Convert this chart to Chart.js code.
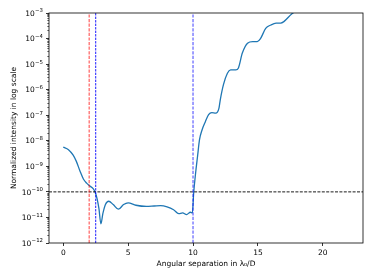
<!DOCTYPE html>
<html>
<head>
<meta charset="utf-8">
<script src="https://cdn.jsdelivr.net/npm/chart.js@4.4.1/dist/chart.umd.min.js"></script>
<style>
  html, body { margin: 0; padding: 0; background: #fff; }
  canvas { display: block; }
</style>
</head>
<body>
<canvas id="chart" width="374" height="280"></canvas>
<script>
// angular separation (lambda0/D) and normalized intensity
var separation = [0, 0.4, 0.75, 1.0, 1.3, 1.55, 1.8, 2.05, 2.3, 2.45, 2.6, 2.75, 2.9, 3.05, 3.25, 3.5,
    3.85, 4.25, 4.65, 5.0, 5.6, 6.4, 7.0, 7.5, 8.0, 8.5, 8.9, 9.2, 9.5, 9.8, 9.95,
    10.05, 10.2, 10.35, 10.5, 10.7, 10.95, 11.2, 11.45, 11.75, 12.0, 12.1, 12.35, 12.65, 12.9,
    13.3, 13.5, 13.8, 14.2, 14.6, 14.95, 15.2, 15.6, 16.0, 16.4, 16.75, 17.0, 17.6, 18.0];
var intensity = [5.6e-9, 4.5e-9, 2.8e-9, 1.6e-9, 6.3e-10, 3.2e-10, 2.2e-10, 1.7e-10, 1.35e-10, 1.0e-10, 5.6e-11, 2.2e-11, 5.6e-12, 1.4e-11, 3.2e-11, 4.3e-11,
    3.2e-11, 2.1e-11, 3.2e-11, 3.7e-11, 3.0e-11, 2.7e-11, 2.8e-11, 2.9e-11, 2.6e-11, 2.0e-11, 1.4e-11, 1.5e-11, 1.3e-11, 1.6e-11, 1.5e-11,
    9.1e-11, 5.5e-10, 2.5e-9, 1.1e-8, 2.7e-8, 5.6e-8, 1.05e-7, 1.26e-7, 1.2e-7, 1.9e-7, 4.0e-7, 1.6e-6, 4.4e-6, 5.9e-6,
    5.9e-6, 7.1e-6, 2.7e-5, 6.6e-5, 7.6e-5, 7.6e-5, 1.0e-4, 2.5e-4, 3.4e-4, 4.0e-4, 4.0e-4, 4.6e-4, 9.1e-4, 1.26e-3];

var xTicks = [0, 5, 10, 15, 20];
var yDecades = [-12, -11, -10, -9, -8, -7, -6, -5, -4, -3];
var xRange = [-1.1, 23.1];
var yRange = [1e-12, 1e-3];

var thresholdLevel = 1e-10;
var redMarker = 2;
var innerMarker = 2.5;
var outerMarker = 10;

var FONT_FAMILY = 'DejaVu Sans';
var font = { family: FONT_FAMILY, size: 7.5 };

function vline(x) {
    return [{ x: x, y: yRange[0] }, { x: x, y: yRange[1] }];
}

// full box around the axes, like matplotlib spines
var framePlugin = {
    id: 'frame',
    afterDatasetsDraw: function (chart) {
        var a = chart.chartArea, ctx = chart.ctx;
        ctx.save();
        ctx.strokeStyle = '#000';
        ctx.lineWidth = 0.8;
        ctx.strokeRect(a.left, a.top, a.right - a.left, a.bottom - a.top);
        ctx.restore();
    }
};

// "10" with a raised, smaller exponent, mathtext style
var decadeLabelPlugin = {
    id: 'decadeLabels',
    afterDraw: function (chart) {
        var y = chart.scales.y, ctx = chart.ctx;
        var right = chart.chartArea.left - 6;
        ctx.save();
        ctx.fillStyle = '#000';
        ctx.textAlign = 'right';
        ctx.textBaseline = 'alphabetic';
        yDecades.forEach(function (e) {
            var py = y.getPixelForValue(Math.pow(10, e));
            var exp = '\u2212' + String(-e);
            ctx.font = '5.4px "' + FONT_FAMILY + '"';
            var expWidth = ctx.measureText(exp).width;
            ctx.fillText(exp, right, py - 0.6);
            ctx.font = '7.5px "' + FONT_FAMILY + '"';
            ctx.fillText('10', right - expWidth - 0.3, py + 2.7);
        });
        ctx.restore();
    }
};

new Chart(document.getElementById('chart').getContext('2d'), {
    type: 'line',
    data: {
        datasets: [
            { data: vline(redMarker), borderColor: 'rgba(255,0,0,0.5)', borderWidth: 1.5, borderDash: [3.2, 1.4], pointRadius: 0, order: 0 },
            { data: vline(innerMarker), borderColor: '#0000ff', borderWidth: 0.9, borderDash: [2.4, 1.1], pointRadius: 0, order: 0 },
            { data: vline(outerMarker), borderColor: 'rgba(0,0,255,0.5)', borderWidth: 1.5, borderDash: [3.2, 1.4], pointRadius: 0, order: 0 },
            { data: [{ x: xRange[0], y: thresholdLevel }, { x: xRange[1], y: thresholdLevel }], borderColor: '#000', borderWidth: 0.9, borderDash: [3, 1.4], pointRadius: 0, order: 0 },
            {
                data: separation.map(function (s, i) { return { x: s, y: intensity[i] }; }),
                borderColor: '#1f77b4', borderWidth: 1.3, pointRadius: 0,
                cubicInterpolationMode: 'monotone', order: 1
            }
        ]
    },
    options: {
        responsive: false,
        animation: false,
        devicePixelRatio: 1,
        layout: { padding: { top: 13, right: 11, left: 0, bottom: 0 } },
        plugins: { legend: { display: false }, tooltip: { enabled: false } },
        scales: {
            x: {
                type: 'linear',
                min: xRange[0],
                max: xRange[1],
                afterBuildTicks: function (scale) {
                    scale.ticks = xTicks.map(function (v) { return { value: v }; });
                },
                afterFit: function (scale) { scale.height = 37; },
                border: { display: false },
                grid: { drawOnChartArea: false, tickLength: 3, tickColor: '#000', tickWidth: 0.8 },
                ticks: { color: '#000', font: font, padding: 2.5, maxRotation: 0, autoSkip: false },
                title: { display: true, text: 'Angular separation in \u03BB\u2080/D', color: '#000', font: font, padding: { top: 0, bottom: 11.5 } }
            },
            y: {
                type: 'logarithmic',
                min: yRange[0],
                max: yRange[1],
                afterBuildTicks: function (scale) {
                    var ticks = [];
                    yDecades.forEach(function (e, i) {
                        var steps = i < yDecades.length - 1 ? 9 : 1;
                        for (var m = 1; m <= steps; m++) {
                            ticks.push({ value: m * Math.pow(10, e), major: m === 1 });
                        }
                    });
                    scale.ticks = ticks;
                },
                afterFit: function (scale) { scale.width = 49; },
                border: { display: false },
                grid: {
                    drawOnChartArea: false,
                    tickLength: 3,
                    tickColor: '#000',
                    tickWidth: function (c) { return c.tick && c.tick.major ? 0.8 : 0.6; },
                    tickBorderDash: function (c) { return c.tick && c.tick.major ? [] : [0, 1.3, 2, 20]; }
                },
                ticks: {
                    color: '#000',
                    font: font,
                    autoSkip: false,
                    callback: function () { return ''; }
                },
                title: { display: true, text: 'Normalized intensity in log scale', color: '#000', font: font, padding: { top: 9.5, bottom: 0 } }
            }
        }
    },
    plugins: [framePlugin, decadeLabelPlugin]
});
</script>
</body>
</html>
